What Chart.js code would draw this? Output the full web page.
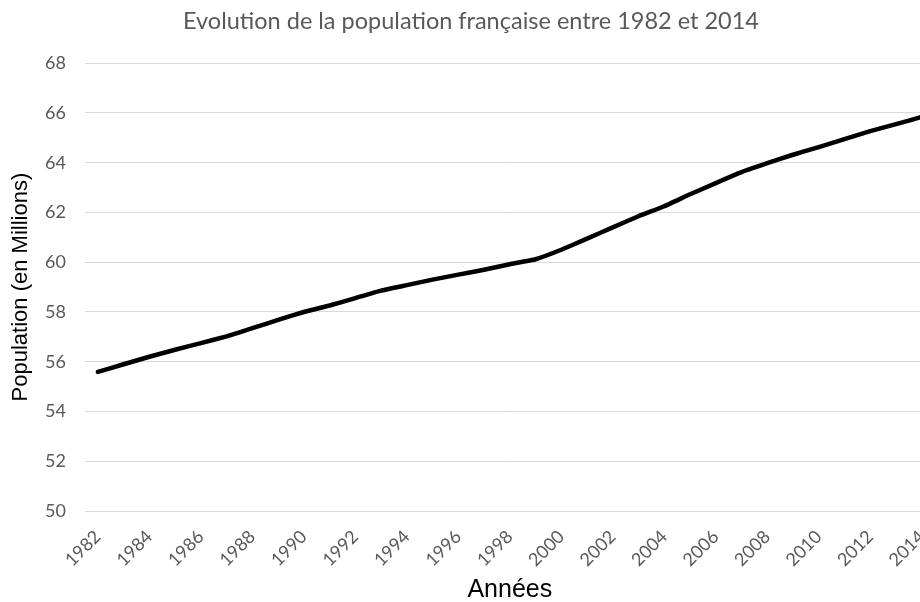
<!DOCTYPE html>
<html>
<head>
<meta charset="utf-8">
<script src="https://cdn.jsdelivr.net/npm/chart.js@4/dist/chart.umd.min.js"></script>
<style>
html,body{margin:0;padding:0;background:#fff;overflow:hidden;}
#wrap{width:952px;height:602px;}
</style>
</head>
<body>
<div id="wrap"><canvas id="c" width="952" height="602"></canvas></div>
<script>
const years = ['1982','1983','1984','1985','1986','1987','1988','1989','1990','1991','1992','1993','1994','1995','1996','1997','1998','1999','2000','2001','2002','2003','2004','2005','2006','2007','2008','2009','2010','2011','2012','2013','2014'];
const population = [55.59,55.9,56.2,56.48,56.75,57.02,57.35,57.68,58.0,58.26,58.56,58.86,59.08,59.3,59.5,59.7,59.92,60.12,60.5,60.95,61.4,61.85,62.25,62.73,63.18,63.62,63.98,64.32,64.63,64.95,65.27,65.55,65.84];
const yTicks = [50,52,54,56,58,60,62,64,66,68];
const chartTitle = 'Evolution de la population française entre 1982 et 2014';
const xTitle = 'Années';
const yTitle = 'Population (en Millions)';

new Chart(document.getElementById('c'), {
  type: 'line',
  data: {
    labels: years,
    datasets: [{
      data: population,
      borderColor: '#000000',
      borderWidth: 4.5,
      pointRadius: 0,
      tension: 0.1,
      borderCapStyle: 'round',
      borderJoinStyle: 'round',
      fill: false
    }]
  },
  options: {
    responsive: false,
    animation: false,
    layout: { padding: { left: -10, right: 0, top: 0, bottom: 0 } },
    plugins: {
      legend: { display: false },
      tooltip: { enabled: false },
      title: {
        display: true,
        text: chartTitle,
        color: '#595959',
        font: { family: 'Lato', size: 23.5, weight: 'normal' },
        padding: { top: 7, bottom: 28 }
      }
    },
    scales: {
      x: {
        offset: true,
        afterFit: function(s) { s.height = 91; },
        grid: { display: false, drawTicks: false },
        border: { display: false },
        ticks: {
          autoSkip: false,
          maxRotation: 45,
          minRotation: 45,
          padding: 15,
          color: '#595959',
          font: { family: 'Lato', size: 18 },
          callback: function(v, i) { const y = years[i]; return (parseInt(y) % 2 === 0) ? y : ''; }
        },
        title: {
          display: true,
          text: xTitle,
          color: '#000000',
          font: { family: 'Liberation Sans', size: 25 },
          padding: { top: 0, bottom: -3 }
        }
      },
      y: {
        min: 50,
        max: 68,
        afterFit: function(s) { s.width = 95; },
        afterBuildTicks: function(axis) { axis.ticks = yTicks.map(v => ({ value: v })); },
        grid: { color: '#d9d9d9', lineWidth: 1, drawTicks: false },
        border: { display: false },
        ticks: {
          padding: 19,
          color: '#595959',
          font: { family: 'Lato', size: 18 }
        },
        title: {
          display: true,
          text: yTitle,
          color: '#000000',
          font: { family: 'Liberation Sans', size: 22 },
          padding: { top: 18, bottom: 0 }
        }
      }
    }
  }
});
</script>
</body>
</html>
